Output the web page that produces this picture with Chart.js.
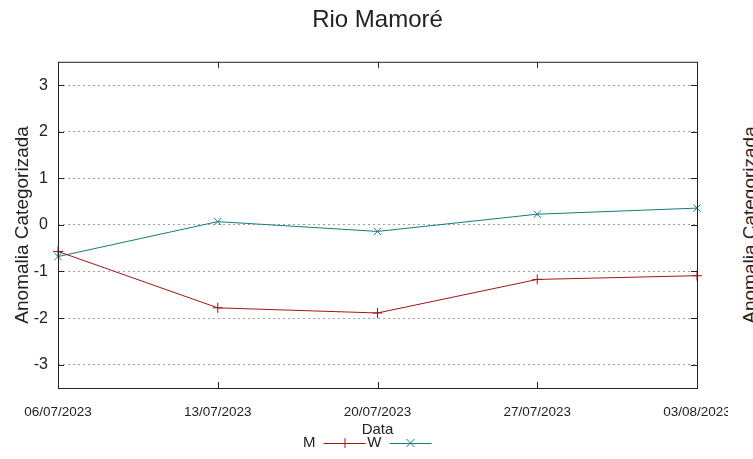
<!DOCTYPE html>
<html>
  <head>
    <meta charset="utf-8" />
    <title>Rio Mamoré</title>
    <script src="https://cdn.jsdelivr.net/npm/chart.js"></script>
    <style>
      body {
        margin: 0;
        background: #fff;
      }
      #wrap {
        position: relative;
        width: 753px;
        height: 459px;
        overflow: hidden;
        background: #fff;
      }
      #chart {
        position: absolute;
        left: 0;
        top: 0;
      }
      /* y label of the next panel, cut by the edge */
      #nextLabel {
        position: absolute;
        left: 750px;
        top: 225px;
        transform: translate(-50%, -50%) rotate(-90deg);
        font: 19px "Liberation Sans", Arial, sans-serif;
        color: #222;
        white-space: nowrap;
      }
    </style>
  </head>
  <body>
    <div id="wrap">
      <canvas id="chart" width="728" height="459"></canvas>
      <div id="nextLabel">Anomalia Categorizada</div>
    </div>

    <script>
      const dates = ["06/07/2023", "13/07/2023", "20/07/2023", "27/07/2023", "03/08/2023"];
      const seriesM = [-0.57, -1.78, -1.89, -1.17, -1.09];
      const seriesW = [-0.68, 0.07, -0.14, 0.23, 0.36];
      const yTicks = [-3, -2, -1, 0, 1, 2, 3];

      const sans = "'Liberation Sans', Arial, sans-serif";
      Chart.defaults.font.family = sans;
      Chart.defaults.color = "#222";

      // gnuplot-like box, inward ticks and key under the x title
      const frame = {
        id: "frame",
        afterDraw(chart) {
          const { ctx, chartArea: a, scales } = chart;
          const x = scales.x, y = scales.y;
          ctx.save();
          ctx.strokeStyle = "#222";
          ctx.lineWidth = 1;
          ctx.strokeRect(a.left + 0.5, a.top + 0.5, a.right - a.left, a.bottom - a.top);
          ctx.beginPath();
          y.ticks.forEach((t) => {
            const py = Math.round(y.getPixelForValue(t.value)) + 0.5;
            ctx.moveTo(a.left, py);
            ctx.lineTo(a.left + 6, py);
            ctx.moveTo(a.right - 6, py);
            ctx.lineTo(a.right, py);
          });
          x.ticks.forEach((t, i) => {
            const px = Math.round(x.getPixelForTick(i)) + 0.5;
            ctx.moveTo(px, a.bottom);
            ctx.lineTo(px, a.bottom - 6);
            ctx.moveTo(px, a.top);
            ctx.lineTo(px, a.top + 6);
          });
          ctx.stroke();

          // key
          const ky = 443;
          let kx = (a.left + a.right) / 2 - 75;
          ctx.font = "15px " + sans;
          ctx.textBaseline = "middle";
          ctx.textAlign = "right";
          chart.data.datasets.forEach((ds) => {
            ctx.fillStyle = "#222";
            ctx.fillText(ds.label, kx + 13, ky);
            ctx.strokeStyle = ds.borderColor;
            ctx.beginPath();
            ctx.moveTo(kx + 21, ky + 0.5);
            ctx.lineTo(kx + 63, ky + 0.5);
            const mx = kx + 42;
            if (ds.pointStyle === "cross") {
              ctx.moveTo(mx + 0.5, ky - 5);
              ctx.lineTo(mx + 0.5, ky + 5);
            } else {
              ctx.moveTo(mx - 4, ky - 4);
              ctx.lineTo(mx + 4, ky + 4);
              ctx.moveTo(mx + 4, ky - 4);
              ctx.lineTo(mx - 4, ky + 4);
            }
            ctx.stroke();
            kx += 66;
          });
          ctx.restore();
        },
      };

      new Chart(document.getElementById("chart"), {
        type: "line",
        data: {
          labels: dates,
          datasets: [
            {
              label: "M",
              data: seriesM,
              borderColor: "#a31515",
              backgroundColor: "#a31515",
              borderWidth: 1,
              tension: 0,
              pointStyle: "cross",
              pointRadius: 5,
              pointBorderWidth: 1,
            },
            {
              label: "W",
              data: seriesW,
              borderColor: "#177a7a",
              backgroundColor: "#177a7a",
              borderWidth: 1,
              tension: 0,
              pointStyle: "crossRot",
              pointRadius: 5,
              pointBorderWidth: 1,
            },
          ],
        },
        options: {
          responsive: false,
          animation: false,
          layout: { padding: { left: 0, right: 31, top: 0, bottom: 0 } },
          plugins: {
            legend: { display: false },
            tooltip: { enabled: false },
            title: {
              display: true,
              text: "Rio Mamoré",
              fullSize: false,
              color: "#222",
              font: { size: 24, weight: "normal" },
              padding: { top: 6, bottom: 27 },
            },
          },
          scales: {
            x: {
              offset: false,
              grid: { display: false, drawTicks: false },
              border: { display: false },
              ticks: {
                autoSkip: false,
                maxRotation: 0,
                minRotation: 0,
                padding: 16,
                color: "#222",
                font: { size: 13.5 },
              },
              title: {
                display: true,
                text: "Data",
                color: "#222",
                font: { size: 15 },
                padding: { top: 0, bottom: 20 },
              },
              afterFit(s) {
                s.height = 71;
                s.paddingLeft = 0;
                s.paddingRight = 0;
              },
            },
            y: {
              min: -3.5,
              max: 3.5,
              grid: { color: "#a0a0a0", lineWidth: 1, drawTicks: false },
              border: { display: false, dash: [2, 3] },
              ticks: {
                padding: 10,
                color: "#222",
                font: { size: 16 },
              },
              afterBuildTicks(s) {
                s.ticks = yTicks.map((v) => ({ value: v }));
              },
              title: {
                display: true,
                text: "Anomalia Categorizada",
                color: "#222",
                font: { size: 19 },
                padding: { top: 11, bottom: 0 },
              },
              afterFit(s) {
                s.width = 58;
                s.paddingTop = 0;
                s.paddingBottom = 0;
              },
            },
          },
        },
        plugins: [frame],
      });
    </script>
  </body>
</html>
